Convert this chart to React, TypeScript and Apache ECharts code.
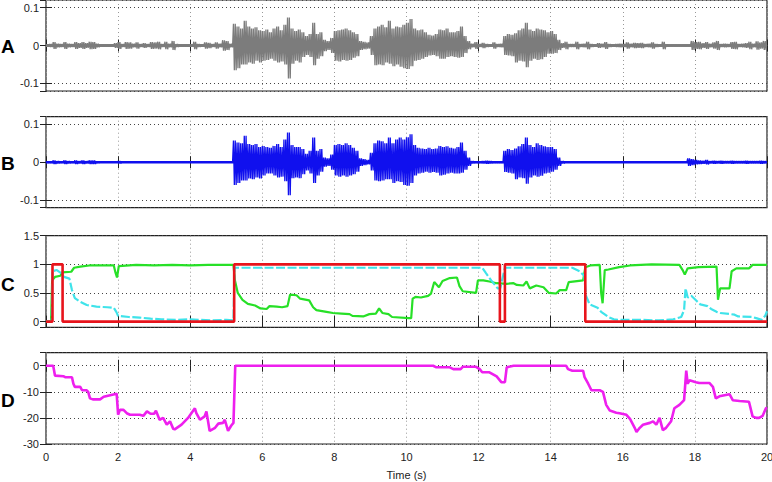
import React, { useEffect, useRef } from "react";
import * as echarts from "echarts";

// ---------- DATA ----------
const SAMPLE_DT = 0.1; // envelope sample spacing (s)
const AMP_UNIT = 0.001; // envelope values are in thousandths

// Panel A – raw signal envelope (upper / lower magnitude)
const A_UP = [
  3, 4, 9, 5, 4, 9, 5, 4, 9, 6,
  9, 6, 10, 9, 5, 3, 3, 3, 3, 6,
  9, 4, 9, 8, 5, 8, 4, 6, 4, 9,
  8, 10, 4, 10, 5, 12, 4, 3, 3, 3,
  3, 10, 4, 3, 8, 7, 4, 8, 5, 14,
  12, 5, 57, 50, 45, 65, 50, 45, 48, 40,
  38, 42, 35, 45, 50, 40, 55, 74, 45, 38,
  42, 35, 25, 30, 60, 30, 35, 15, 12, 20,
  38, 40, 42, 45, 40, 35, 30, 12, 10, 8,
  25, 45, 50, 55, 48, 65, 45, 50, 48, 55,
  60, 70, 45, 40, 42, 35, 28, 26, 30, 42,
  40, 45, 35, 35, 38, 50, 25, 12, 5, 9,
  4, 7, 4, 3, 8, 4, 5, 25, 30, 28,
  32, 40, 45, 60, 42, 38, 45, 42, 40, 35,
  38, 30, 15, 6, 10, 4, 4, 10, 4, 5,
  10, 4, 3, 6, 5, 9, 4, 3, 4, 5,
  4, 8, 5, 7, 6, 7, 4, 5, 8, 4,
  3, 10, 3, 2, 2, 2, 2, 2, 2, 12,
  9, 10, 6, 9, 5, 8, 12, 4, 5, 4,
  9, 10, 4, 5, 6, 10, 5, 11, 8, 12,
];
const A_DN = [
  3, 4, 9, 5, 4, 9, 5, 4, 9, 6,
  9, 6, 10, 9, 5, 3, 3, 3, 3, 6,
  9, 4, 9, 8, 5, 8, 4, 6, 4, 9,
  8, 10, 4, 10, 5, 12, 4, 3, 3, 3,
  3, 10, 4, 3, 8, 7, 4, 8, 5, 14,
  12, 5, 65, 60, 50, 50, 45, 48, 40, 45,
  40, 38, 35, 40, 45, 42, 50, 87, 48, 40,
  45, 30, 25, 30, 52, 35, 28, 15, 12, 20,
  40, 42, 38, 40, 38, 32, 28, 12, 10, 8,
  25, 52, 50, 52, 45, 48, 55, 50, 56, 60,
  62, 55, 40, 38, 35, 30, 26, 25, 28, 35,
  35, 30, 28, 30, 32, 30, 20, 10, 5, 9,
  4, 7, 4, 3, 8, 4, 5, 25, 26, 28,
  45, 40, 42, 57, 40, 35, 38, 36, 30, 22,
  22, 20, 12, 6, 10, 4, 4, 10, 4, 5,
  10, 4, 3, 6, 5, 9, 4, 3, 4, 5,
  4, 8, 5, 7, 6, 7, 4, 5, 8, 4,
  3, 10, 3, 2, 2, 2, 2, 2, 2, 12,
  9, 10, 6, 9, 5, 8, 12, 4, 5, 4,
  9, 10, 4, 5, 6, 10, 5, 11, 8, 12,
];

// Panel B – enhanced signal envelope
const B_UP = [
  2, 2, 5, 3, 2, 5, 3, 2, 5, 3,
  5, 3, 5, 5, 2, 1, 1, 1, 1, 1,
  3, 1, 1, 1, 1, 1, 1, 1, 1, 1,
  1, 1, 1, 1, 1, 1, 1, 1, 1, 1,
  1, 1, 1, 1, 1, 1, 1, 1, 1, 1,
  1, 1, 57, 52, 50, 70, 48, 45, 48, 40,
  43, 40, 38, 43, 48, 40, 60, 78, 45, 40,
  40, 35, 22, 30, 65, 30, 35, 12, 10, 20,
  45, 48, 45, 50, 45, 38, 30, 10, 8, 6,
  25, 50, 57, 55, 50, 65, 50, 60, 65, 60,
  66, 74, 45, 38, 36, 35, 38, 35, 36, 43,
  40, 42, 38, 36, 40, 52, 30, 12, 3, 2,
  2, 3, 4, 3, 2, 2, 2, 30, 35, 32,
  36, 42, 48, 65, 45, 40, 50, 45, 42, 40,
  40, 35, 12, 3, 1, 1, 1, 1, 1, 1,
  1, 1, 1, 1, 1, 1, 1, 1, 1, 1,
  1, 1, 1, 1, 1, 1, 1, 1, 1, 1,
  1, 1, 1, 1, 1, 1, 1, 1, 10, 8,
  6, 5, 4, 6, 3, 4, 3, 4, 3, 3,
  4, 3, 3, 3, 4, 3, 3, 3, 4, 3,
];
const B_DN = [
  2, 2, 5, 3, 2, 5, 3, 2, 5, 3,
  5, 3, 5, 5, 2, 1, 1, 1, 1, 1,
  3, 1, 1, 1, 1, 1, 1, 1, 1, 1,
  1, 1, 1, 1, 1, 1, 1, 1, 1, 1,
  1, 1, 1, 1, 1, 1, 1, 1, 1, 1,
  1, 1, 60, 55, 48, 48, 43, 45, 40, 43,
  35, 30, 30, 35, 40, 38, 50, 87, 42, 40,
  42, 32, 22, 30, 55, 35, 25, 12, 10, 20,
  35, 38, 35, 38, 35, 32, 25, 10, 8, 6,
  22, 48, 50, 48, 45, 45, 55, 50, 52, 60,
  62, 55, 35, 30, 28, 25, 28, 26, 28, 35,
  33, 30, 28, 30, 30, 28, 20, 10, 3, 2,
  2, 3, 4, 3, 2, 2, 2, 26, 28, 30,
  45, 40, 42, 57, 40, 35, 38, 36, 30, 28,
  25, 20, 10, 3, 1, 1, 1, 1, 1, 1,
  1, 1, 1, 1, 1, 1, 1, 1, 1, 1,
  1, 1, 1, 1, 1, 1, 1, 1, 1, 1,
  1, 1, 1, 1, 1, 1, 1, 1, 10, 8,
  6, 5, 4, 6, 3, 4, 3, 4, 3, 3,
  4, 3, 3, 3, 4, 3, 3, 3, 4, 3,
];

// Panel C – green probability [t, value]
const C_GREEN: number[][] = [
  [0, 0], [0.14, 0], [0.17, 0.72], [0.25, 0.78], [0.4, 0.8], [0.45, 0.86], [0.7, 0.87],
  [0.78, 0.94], [0.95, 0.96], [1.2, 0.98], [1.6, 0.98], [1.88, 0.98], [1.93, 0.85],
  [1.97, 0.77], [2.02, 0.97], [2.5, 0.99], [3, 0.98], [3.5, 0.99], [4, 0.98], [4.5, 0.99],
  [5.2, 0.99], [5.24, 0.72], [5.32, 0.5], [5.45, 0.38], [5.6, 0.31], [5.8, 0.28],
  [5.95, 0.23], [6.12, 0.22], [6.2, 0.27], [6.4, 0.26], [6.55, 0.25], [6.7, 0.27],
  [6.77, 0.47], [6.95, 0.46], [7.05, 0.4], [7.3, 0.37], [7.41, 0.25], [7.5, 0.2],
  [7.78, 0.17], [7.96, 0.15], [8.2, 0.14], [8.42, 0.13], [8.5, 0.1], [8.8, 0.09],
  [8.97, 0.13], [9.15, 0.14], [9.24, 0.23], [9.33, 0.15], [9.5, 0.13], [9.6, 0.08],
  [10.06, 0.06], [10.13, 0.06], [10.17, 0.4], [10.25, 0.43], [10.4, 0.42], [10.6, 0.45],
  [10.68, 0.49], [10.77, 0.69], [10.9, 0.6], [11.0, 0.71], [11.2, 0.76], [11.4, 0.77],
  [11.47, 0.62], [11.56, 0.53], [11.93, 0.5], [11.98, 0.72], [12.13, 0.72], [12.3, 0.7],
  [12.5, 0.67], [12.78, 0.66], [12.97, 0.67], [13.06, 0.64], [13.24, 0.63], [13.33, 0.7],
  [13.42, 0.58], [13.6, 0.63], [13.8, 0.6], [13.95, 0.5], [14.15, 0.49], [14.25, 0.55],
  [14.43, 0.55], [14.5, 0.69], [14.9, 0.72], [14.96, 0.95], [15.1, 0.98], [15.36, 0.99],
  [15.4, 0.5], [15.44, 0.32], [15.5, 0.9], [15.6, 0.91], [15.9, 0.95], [16.2, 0.98],
  [16.8, 1.0], [17.57, 0.99], [17.66, 0.9], [17.72, 0.82], [17.8, 0.93], [18.1, 0.95],
  [18.6, 0.96], [18.64, 0.38], [18.7, 0.58], [18.96, 0.58], [19.02, 0.88], [19.15, 0.93],
  [19.5, 0.93], [19.6, 0.99], [20, 0.99],
];

// Panel C – cyan probability [t, value]
const C_CYAN: number[][] = [
  [0, 0], [0.16, 0], [0.18, 0.88], [0.3, 0.9], [0.41, 0.85], [0.5, 0.78], [0.65, 0.75],
  [0.72, 0.55], [0.8, 0.41], [0.94, 0.35], [1.13, 0.29], [1.4, 0.26], [1.7, 0.25],
  [1.88, 0.24], [1.95, 0.17], [2.0, 0.1], [2.3, 0.08], [2.6, 0.07], [2.9, 0.05],
  [3.2, 0.04], [3.6, 0.03], [4.0, 0.04], [4.3, 0.03], [4.6, 0.02], [5.0, 0.03],
  [5.2, 0.02], [5.23, 0.94], [12.1, 0.94], [12.2, 0.85], [12.35, 0.72], [12.53, 0.58],
  [12.6, 0.58], [12.73, 0.94], [14.6, 0.94], [14.8, 0.88], [14.93, 0.8], [14.98, 0.45],
  [15.08, 0.3], [15.3, 0.24], [15.4, 0.17], [15.6, 0.08], [15.75, 0.04], [15.9, 0.03],
  [16.5, 0.03], [17.0, 0.02], [17.4, 0.04], [17.62, 0.08], [17.7, 0.2], [17.74, 0.58],
  [17.8, 0.42], [17.9, 0.45], [18.05, 0.36], [18.15, 0.3], [18.35, 0.27], [18.45, 0.22],
  [18.6, 0.17], [18.7, 0.15], [19.0, 0.13], [19.1, 0.12], [19.2, 0.09], [19.6, 0.08],
  [19.7, 0.06], [19.85, 0.03], [19.95, 0.1], [20, 0.18],
];

// Panel C – red decision (step) [t, value]
const C_RED: number[][] = [
  [0, 0], [0.18, 1], [0.46, 0], [5.22, 1], [12.59, 0], [12.73, 1], [14.96, 0], [20, 0],
];

// Panel D – magenta [t, value]
const D_LINE: number[][] = [
  [0, 0], [0.2, 0], [0.25, -3.8], [0.48, -4], [0.53, -4.4], [0.72, -4.4], [0.76, -6.9],
  [0.8, -8.1], [0.95, -8.1], [1.0, -9.4], [1.13, -9.4], [1.17, -10], [1.22, -12.5],
  [1.3, -12.9], [1.5, -12.9], [1.6, -11.9], [1.9, -10.9], [1.96, -10.7], [2.0, -18.8],
  [2.05, -16.9], [2.15, -16.9], [2.24, -18.2], [2.33, -18.8], [2.6, -18.8], [2.7, -19.2],
  [2.8, -17.5], [2.9, -18.4], [3.0, -18.4], [3.05, -17.2], [3.15, -20.7], [3.25, -20],
  [3.35, -22.6], [3.44, -21.3], [3.53, -24.2], [3.57, -24.4], [3.76, -22.6], [3.94, -20],
  [4.13, -16.3], [4.17, -18.2], [4.27, -20.7], [4.4, -19.4], [4.45, -17.5], [4.54, -25],
  [4.69, -23.8], [4.78, -22.2], [4.91, -21.9], [4.96, -20.7], [5.05, -25], [5.14, -22.9],
  [5.2, -21.9], [5.25, 0], [10.74, 0], [10.83, -0.6], [11.2, -0.6], [11.3, -1.3],
  [11.5, -1.3], [11.56, -0.4], [11.93, -0.4], [12.03, -1.3], [12.1, -2.5], [12.3, -2.5],
  [12.5, -4.1], [12.63, -6.3], [12.73, -6.3], [12.78, -0.6], [12.97, 0], [14.43, 0],
  [14.48, -1.3], [14.6, -1.9], [14.9, -1.9], [14.94, -4.4], [15.04, -6.9], [15.13, -9.4],
  [15.36, -9.4], [15.45, -10], [15.54, -15], [15.64, -17.2], [15.82, -18], [15.91, -18.2],
  [16.1, -18.8], [16.2, -20.4], [16.33, -23.8], [16.38, -25.4], [16.47, -23.8],
  [16.56, -22.6], [16.75, -21.9], [16.84, -21.3], [16.93, -22.6], [17.02, -20],
  [17.11, -24.7], [17.2, -23.8], [17.34, -21.3], [17.43, -16.3], [17.57, -15],
  [17.7, -13.2], [17.76, -1.9], [17.8, -6.9], [17.85, -5.6], [18.03, -6.3], [18.12, -6.6],
  [18.4, -6.6], [18.5, -8.1], [18.58, -12.5], [18.68, -11.7], [18.96, -10.9],
  [19.05, -13.2], [19.24, -13.5], [19.5, -13.8], [19.6, -19.4], [19.7, -20], [19.78, -20],
  [19.88, -19.2], [19.97, -16.3], [20, -16],
];

const X_MIN = 0;
const X_MAX = 20;
const X_INTERVAL = 2;
const PANEL_LABELS = ["A", "B", "C", "D"];
const X_NAME = "Time (s)";

// ---------- STYLE / LAYOUT ----------
const FONT = "Liberation Sans";
const GRID_LEFT = 46;
const GRID_RIGHT = 5;
const GRIDS = [
  { top: 0, height: 91 },
  { top: 116.7, height: 91 },
  { top: 235.7, height: 91.6 },
  { top: 352.7, height: 91.3 },
];
const Y_CFG = [
  { min: -0.12, max: 0.12, step: 0.1, split: 2 },
  { min: -0.12, max: 0.12, step: 0.1, split: 2 },
  { min: -0.1, max: 1.5, step: 0.5, split: 3 },
  { min: -30, max: 5, step: 10, split: 4 },
];
const LETTER_Y = [46, 163, 284, 400];
const ZIG_PER_SAMPLE = 4;

// Render an envelope (upper / lower) as a dense oscillating trace
function zigzag(up: number[], dn: number[]) {
  const out: number[][] = [];
  const sub = SAMPLE_DT / ZIG_PER_SAMPLE;
  for (let i = 0; i < up.length; i++) {
    const t = i * SAMPLE_DT;
    for (let k = 0; k < ZIG_PER_SAMPLE; k++) {
      out.push([t + k * sub, k % 2 === 0 ? up[i] * AMP_UNIT : -dn[i] * AMP_UNIT]);
    }
  }
  return out;
}

function isMultiple(v: number, step: number) {
  const r = v / step;
  return Math.abs(r - Math.round(r)) < 1e-6;
}

export default function App() {
  const ref = useRef<HTMLDivElement>(null);
  useEffect(() => {
    if (!ref.current) return;
    const chart = echarts.init(ref.current, null, { renderer: "svg" });

    const grid = GRIDS.map((g) => ({
      left: GRID_LEFT,
      right: GRID_RIGHT,
      top: g.top,
      height: g.height,
      show: true,
      borderColor: "#222",
      borderWidth: 1.2,
      backgroundColor: "transparent",
      containLabel: false,
      outerBoundsMode: "none",
    }));

    const xAxis: any[] = [];
    const yAxis: any[] = [];
    GRIDS.forEach((_, i) => {
      xAxis.push({
        type: "value",
        gridIndex: i,
        min: X_MIN,
        max: X_MAX,
        interval: X_INTERVAL,
        position: "bottom",
        axisLine: { show: false },
        axisTick: { show: true, inside: true, length: 6, lineStyle: { color: "#222", width: 1 } },
        axisLabel: {
          show: i === 3,
          margin: 7,
          fontSize: 11,
          fontFamily: FONT,
          color: "#222",
          interval: 0,
          hideOverlap: false,
        },
        splitLine: { show: true, lineStyle: { color: "#999", type: [1, 3], width: 1 } },
        name: i === 3 ? X_NAME : "",
        nameLocation: "middle",
        nameGap: 25,
        nameTextStyle: { fontSize: 11, fontFamily: FONT, color: "#222" },
      });
      xAxis.push({
        type: "value",
        gridIndex: i,
        min: X_MIN,
        max: X_MAX,
        interval: X_INTERVAL,
        position: "top",
        axisLine: { show: false },
        axisTick: { show: true, inside: true, length: 6, lineStyle: { color: "#222", width: 1 } },
        axisLabel: { show: false },
        splitLine: { show: false },
      });
      const c = Y_CFG[i];
      const common = {
        type: "value",
        gridIndex: i,
        min: c.min,
        max: c.max,
        splitNumber: c.split,
        minInterval: c.step,
        maxInterval: c.step,
        axisLine: { show: false },
      };
      yAxis.push({
        ...common,
        position: "left",
        axisTick: { show: true, inside: true, length: 6, lineStyle: { color: "#222", width: 1 } },
        axisLabel: {
          show: true,
          margin: 7,
          fontSize: 11,
          fontFamily: FONT,
          color: "#222",
          showMinLabel: i === 3,
          showMaxLabel: i === 2,
          formatter: (v: number) => (isMultiple(v, c.step) ? String(+v.toFixed(4) === 0 ? 0 : +v.toFixed(4)) : ""),
        },
        splitLine: { show: true, lineStyle: { color: "#444", type: [1, 3], width: 1 } },
      });
      yAxis.push({
        ...common,
        position: "right",
        axisTick: { show: true, inside: true, length: 6, lineStyle: { color: "#222", width: 1 } },
        axisLabel: { show: false },
        splitLine: { show: false },
      });
    });

    const base = (i: number) => ({ xAxisIndex: 2 * i, yAxisIndex: 2 * i, showSymbol: false, symbol: "none", silent: true, animation: false });

    const series: any[] = [
      { ...base(0), type: "line", data: [[X_MIN, 0], [X_MAX, 0]], lineStyle: { color: "#808080", width: 3 } },
      { ...base(0), type: "line", data: zigzag(A_UP, A_DN), lineStyle: { color: "#7c7c7c", width: 1.3 } },
      { ...base(1), type: "line", data: [[X_MIN, 0], [X_MAX, 0]], lineStyle: { color: "#1010ee", width: 2.5 } },
      { ...base(1), type: "line", data: zigzag(B_UP, B_DN), lineStyle: { color: "#1010ee", width: 1.3 } },
      { ...base(2), type: "line", data: C_GREEN, lineStyle: { color: "#27e027", width: 2.2 } },
      { ...base(2), type: "line", data: C_CYAN, lineStyle: { color: "#3fe3ea", width: 2.2, type: [9, 2.5] } },
      { ...base(2), type: "line", step: "end", data: C_RED, lineStyle: { color: "#e8141c", width: 2.6 } },
      { ...base(3), type: "line", data: D_LINE, lineStyle: { color: "#ee1fee", width: 2.6 } },
    ];

    const graphic = PANEL_LABELS.map((t, i) => ({
      type: "text",
      x: 1,
      y: LETTER_Y[i],
      style: {
        text: t,
        fontSize: 19,
        fontWeight: "bold",
        fontFamily: FONT,
        fill: "#000",
        align: "left",
        verticalAlign: "middle",
      },
    }));

    chart.setOption({
      animation: false,
      backgroundColor: "#fff",
      grid,
      xAxis,
      yAxis,
      series,
      graphic,
    });
    return () => chart.dispose();
  }, []);

  return (
    <div
      ref={ref}
      style={{ position: "absolute", left: 0, top: 0, width: 772, height: 482 }}
    />
  );
}
